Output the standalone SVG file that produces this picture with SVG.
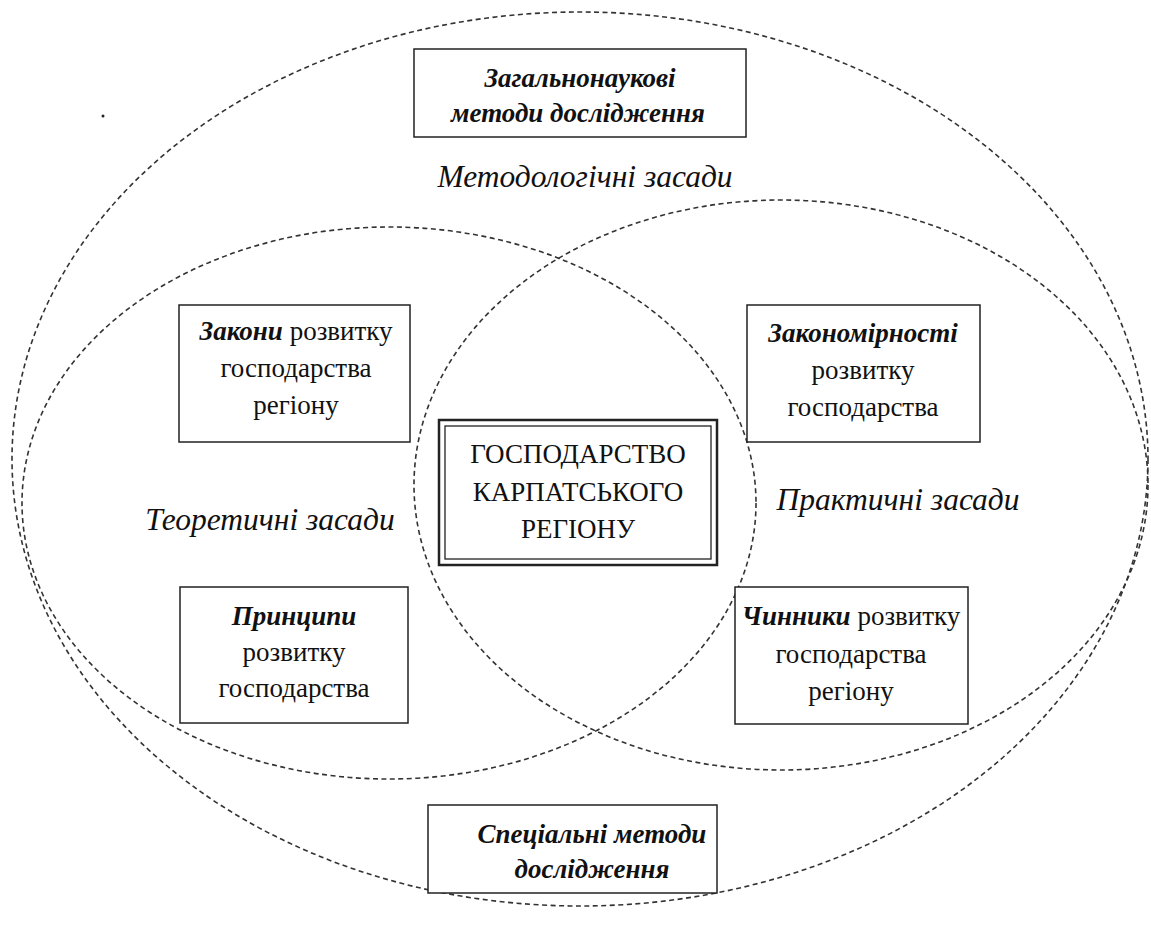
<svg xmlns="http://www.w3.org/2000/svg" width="1151" height="925" viewBox="0 0 1151 925">
<style>
.ell{fill:none;stroke:#333;stroke-width:1.6;stroke-dasharray:5 3.5}
.box{fill:#fff;stroke:#222;stroke-width:1.5}
text{font-family:"Liberation Serif","Times New Roman",serif}
.t{font-size:27px;fill:#111;text-anchor:middle}
.bi{font-weight:bold;font-style:italic}
.lab{font-size:31.5px;font-style:italic;fill:#111;text-anchor:middle}
</style>
<rect width="1151" height="925" fill="#fff"/>
<g id="connectors">
<ellipse class="ell" cx="580" cy="459" rx="568" ry="447"/>
<ellipse class="ell" cx="389" cy="503" rx="367" ry="276"/>
<ellipse class="ell" cx="781" cy="485" rx="367" ry="285"/>
</g>
<circle cx="103" cy="116" r="1.5" fill="#222"/>
<g id="general">
<rect class="box" x="414" y="49" width="332" height="88"/>
<text class="t bi" x="580" y="87">Загальнонаукові</text>
<text class="t bi" x="578" y="122">методи дослідження</text>
</g>
<text class="lab" x="585" y="187">Методологічні засади</text>
<g id="laws">
<rect class="box" x="179" y="305" width="231" height="137"/>
<text class="t" x="296" y="340"><tspan class="bi">Закони</tspan> розвитку</text>
<text class="t" x="296" y="377">господарства</text>
<text class="t" x="296" y="414">регіону</text>
</g>
<g id="regularities">
<rect class="box" x="747" y="305" width="233" height="137"/>
<text class="t bi" x="863" y="342">Закономірності</text>
<text class="t" x="863" y="379">розвитку</text>
<text class="t" x="863" y="416">господарства</text>
</g>
<g id="center">
<rect x="439" y="420" width="278" height="145" fill="#fff" stroke="#222" stroke-width="2.5"/>
<rect x="445" y="426" width="266" height="133" fill="none" stroke="#222" stroke-width="1.3"/>
<text class="t" x="578" y="463">ГОСПОДАРСТВО</text>
<text class="t" x="578" y="501">КАРПАТСЬКОГО</text>
<text class="t" x="578" y="538">РЕГІОНУ</text>
</g>
<text class="lab" x="270" y="530">Теоретичні засади</text>
<text class="lab" x="898" y="510">Практичні засади</text>
<g id="principles">
<rect class="box" x="180" y="587" width="228" height="136"/>
<text class="t bi" x="294" y="625">Принципи</text>
<text class="t" x="294" y="661">розвитку</text>
<text class="t" x="294" y="697">господарства</text>
</g>
<g id="factors">
<rect class="box" x="735" y="587" width="233" height="137"/>
<text class="t" x="851" y="625"><tspan class="bi">Чинники</tspan> розвитку</text>
<text class="t" x="851" y="663">господарства</text>
<text class="t" x="851" y="700">регіону</text>
</g>
<g id="special">
<rect class="box" x="428" y="805" width="289" height="88"/>
<text class="t bi" x="592" y="843">Спеціальні методи</text>
<text class="t bi" x="592" y="878">дослідження</text>
</g>
</svg>
